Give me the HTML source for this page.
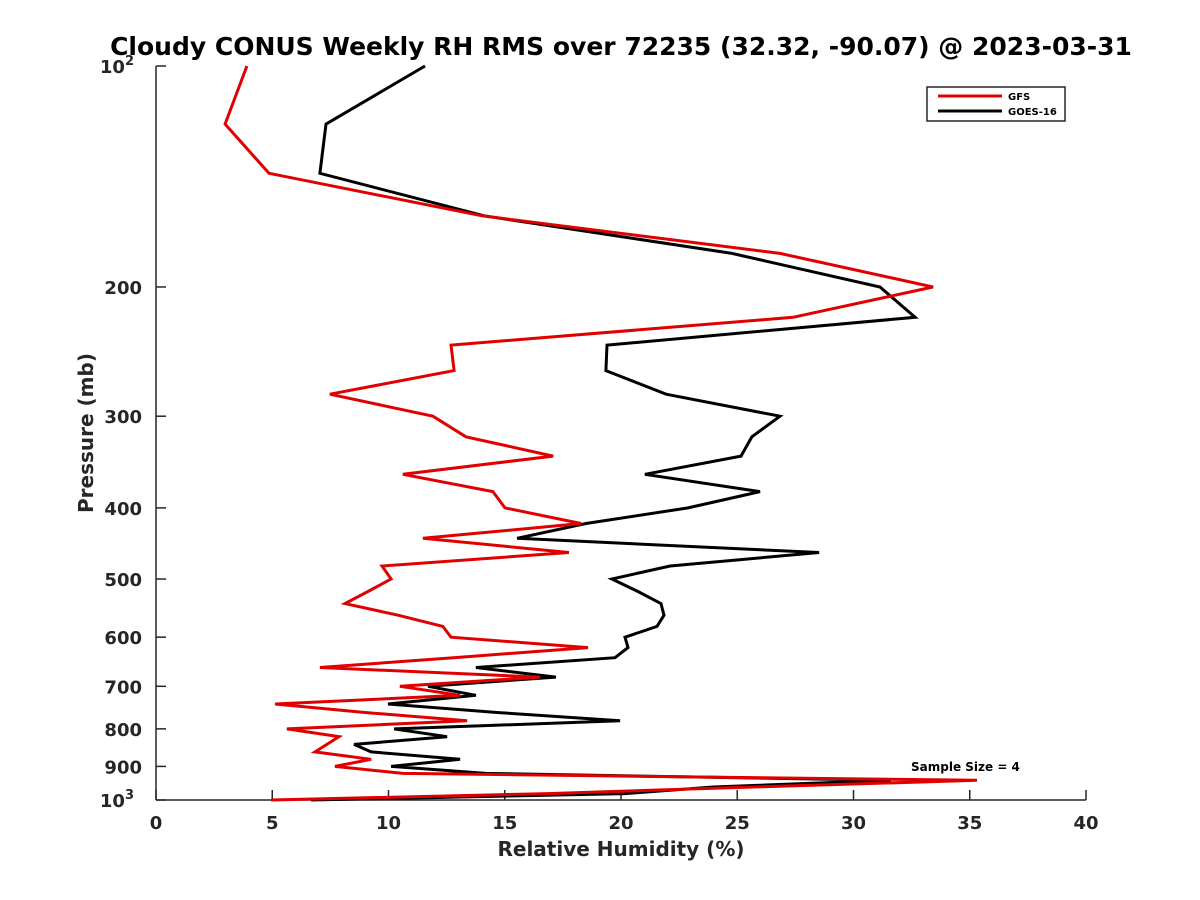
<!DOCTYPE html>
<html><head><meta charset="utf-8"><style>
body{margin:0;background:#fff;}
svg{display:block;font-family:"DejaVu Sans","Liberation Sans",sans-serif;font-weight:bold;}
</style></head><body>
<svg id="chart" width="1200" height="900" viewBox="0 0 1200 900">
<rect width="1200" height="900" fill="#fff"/>
<text x="621" y="55" font-size="25" text-anchor="middle" fill="#000">Cloudy CONUS Weekly RH RMS over 72235 (32.32, -90.07) @ 2023-03-31</text>
<g id="axes"></g>
<g id="series"></g>
<text x="621" y="856" font-size="20" text-anchor="middle" fill="#262626">Relative Humidity (%)</text>
<text transform="translate(93,433) rotate(-90)" font-size="20" text-anchor="middle" fill="#262626">Pressure (mb)</text>
<g>
<rect x="927" y="87" width="138" height="34" fill="#fff" stroke="#262626" stroke-width="1.5"/>
<line x1="938" y1="96" x2="1002" y2="96" stroke="#e00000" stroke-width="3"/>
<line x1="938" y1="111" x2="1002" y2="111" stroke="#000" stroke-width="3"/>
<text x="1008" y="100" font-size="10" fill="#000">GFS</text>
<text x="1008" y="115" font-size="10" fill="#000">GOES-16</text>
</g>
<text x="911" y="771" font-size="12" fill="#000">Sample Size = 4</text>
</svg>
<script>
const pressureLevels=[100,120,140,160,180,200,220,240,260,280,300,320,340,360,380,400,420,440,460,480,500,520,540,560,580,600,620,640,660,680,700,720,740,760,780,800,820,840,860,880,900,920,940,960,980,1000];
const gfsValues=[3.91,2.97,4.86,14.02,26.84,33.42,27.40,12.69,12.82,7.48,11.91,13.33,17.08,10.62,14.49,15.01,18.28,11.48,17.76,9.72,10.11,9.12,8.13,10.41,12.34,12.69,18.58,12.8,7.05,16.52,10.49,13.08,5.12,8.99,13.38,5.63,7.87,7.35,6.84,9.25,7.70,10.62,35.31,25.7,16.86,4.95];
const goesValues=[11.57,7.31,7.05,14.11,24.77,31.14,32.65,19.40,19.35,21.94,26.84,25.63,25.16,21.03,25.98,22.88,18.49,15.53,28.52,22.11,19.61,20.73,21.72,21.85,21.55,20.17,20.30,19.74,13.76,17.20,11.70,13.76,9.98,14.67,19.96,10.24,12.52,8.52,9.25,13.08,10.11,14.19,31.61,23.96,20.17,6.67];
const xTicks=[0,5,10,15,20,25,30,35,40];
const yTicks=[100,200,300,400,500,600,700,800,900,1000];
const yTickLabels=["10²","200","300","400","500","600","700","800","900","10³"];

const L=156,R=1086,T=66,B=800;
const xs=v=>L+(v-0)/(40-0)*(R-L);
const ys=p=>T+(Math.log10(p)-2)*(B-T);
const NS="http://www.w3.org/2000/svg";
function mk(tag,attrs,parent){const e=document.createElementNS(NS,tag);for(const k in attrs)e.setAttribute(k,attrs[k]);parent.appendChild(e);return e;}
const axes=document.getElementById('axes');
const yl=mk('line',{x1:L,y1:T,x2:L,y2:B,stroke:'#262626','stroke-width':1.5},axes);


const xl=mk('line',{x1:L,y1:B,x2:R,y2:B,stroke:'#262626','stroke-width':1.5},axes);


xTicks.forEach(v=>{
  const x=xs(v);
  mk('line',{x1:x,y1:B,x2:x,y2:B-10,stroke:'#262626','stroke-width':1.5},axes);
  const t=mk('text',{x:x,y:B+29,'font-size':18,'text-anchor':'middle',fill:'#262626'},axes);
  
  
  t.textContent=v;
});
yTicks.forEach((p,i)=>{
  const y=ys(p);
  mk('line',{x1:L,y1:y,x2:L+10,y2:y,stroke:'#262626','stroke-width':1.5},axes);
  const t=mk('text',{x:L-14,y:y+7,'font-size':18,'text-anchor':'end',fill:'#262626'},axes);
  
  
  const lab=yTickLabels[i];
  if(lab.length===3&&(lab[2]==='²'||lab[2]==='³')){
    t.textContent='10';
    t.setAttribute('x',L-22);
    const s=mk('tspan',{'font-size':13,dy:-8},t);
    s.textContent=lab[2]==='²'?'2':'3';
  } else t.textContent=lab;
});
const series=document.getElementById('series');
function drawLine(vals,color,name){
  const pts=vals.map((v,i)=>xs(v).toFixed(1)+','+ys(pressureLevels[i]).toFixed(1)).join(' ');
  const pl=mk('polyline',{points:pts,fill:'none',stroke:color,'stroke-width':3,'stroke-linejoin':'miter'},series);
  
  
}
drawLine(goesValues,'#000','goes16-line');
drawLine(gfsValues,'#e00000','gfs-line');
</script>
</body></html>
